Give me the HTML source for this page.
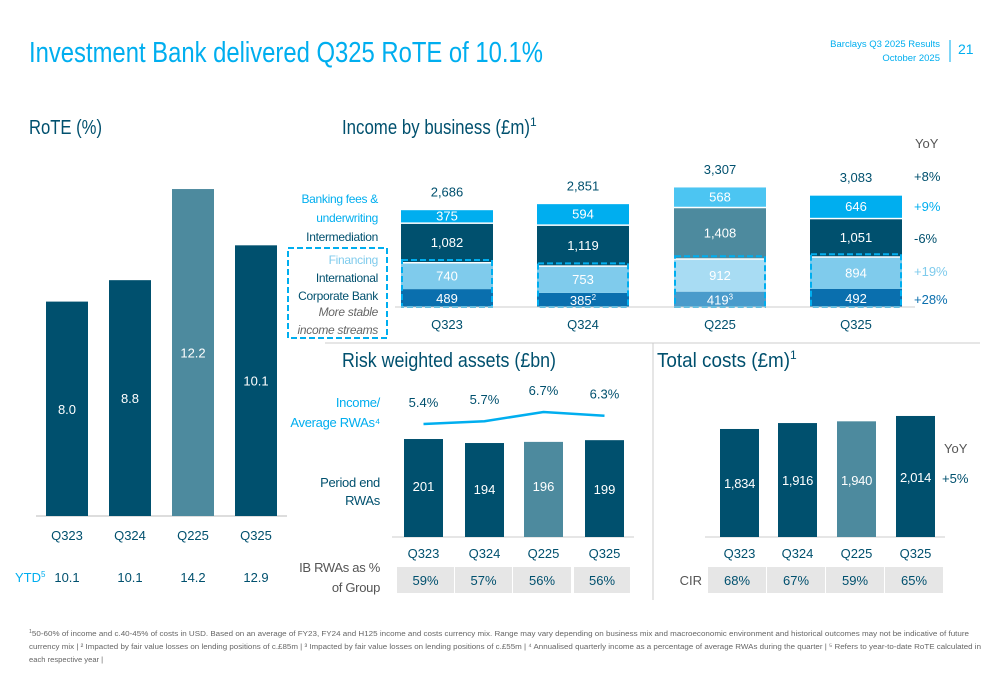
<!DOCTYPE html>
<html><head><meta charset="utf-8"><style>
html,body{margin:0;padding:0;background:#fff;}
svg{display:block;font-family:"Liberation Sans",sans-serif;}
</style></head><body>
<svg id="s" width="1000" height="685" viewBox="0 0 1000 685" xmlns="http://www.w3.org/2000/svg">
<text x="29" y="62" font-size="29" fill="#00aeef" textLength="514" lengthAdjust="spacingAndGlyphs">Investment Bank delivered Q325 RoTE of 10.1%</text>
<text x="940" y="47" font-size="9.5" fill="#00aeef" text-anchor="end">Barclays Q3 2025 Results</text>
<text x="940" y="61" font-size="9.5" fill="#00aeef" text-anchor="end">October 2025</text>
<line x1="950" y1="40" x2="950" y2="62" stroke="#00aeef" stroke-width="1"/>
<text x="958" y="54" font-size="14" fill="#00aeef">21</text>
<text x="29" y="134" font-size="20" fill="#00506e" textLength="73" lengthAdjust="spacingAndGlyphs">RoTE (%)</text>
<text x="342" y="134" font-size="20" fill="#00506e"><tspan textLength="188" lengthAdjust="spacingAndGlyphs">Income by business (£m)</tspan><tspan font-size="12" dy="-8">1</tspan></text>
<text x="342" y="367" font-size="20" fill="#00506e" textLength="214" lengthAdjust="spacingAndGlyphs">Risk weighted assets (£bn)</text>
<text x="657" y="367" font-size="20" fill="#00506e"><tspan textLength="133" lengthAdjust="spacingAndGlyphs">Total costs (£m)</tspan><tspan font-size="12" dy="-8">1</tspan></text>
<line x1="325" y1="343" x2="980" y2="343" stroke="#cccccc"/>
<line x1="653" y1="343" x2="653" y2="600" stroke="#cccccc"/>
<g id="g"></g>
<text x="29" y="636" font-size="7.6" fill="#666" textLength="940" lengthAdjust="spacingAndGlyphs"><tspan font-size="5" dy="-3">1</tspan><tspan dy="3">50-60% of income and c.40-45% of costs in USD. Based on an average of FY23, FY24 and H125 income and costs currency mix. Range may vary depending on business mix and macroeconomic environment and historical outcomes may not be indicative of future</tspan></text>
<text x="29" y="649" font-size="7.6" fill="#666" textLength="952" lengthAdjust="spacingAndGlyphs">currency mix | ² Impacted by fair value losses on lending positions of c.£85m | ³ Impacted by fair value losses on lending positions of c.£55m | ⁴ Annualised quarterly income as a percentage of average RWAs during the quarter | ⁵ Refers to year-to-date RoTE calculated in</text>
<text x="29" y="662" font-size="7.6" fill="#666">each respective year |</text>
</svg>
<script>
const quarters = ["Q323","Q324","Q225","Q325"];
const roteValues = [8.0, 8.8, 12.2, 10.1];
const ytdValues = ["10.1","10.1","14.2","12.9"];
const icbValues = [489, 385, 419, 492];
const icbLabels = ["489","385","419","492"];
const icbSup = ["","2","3",""];
const financingValues = [740, 753, 912, 894];
const intermediationValues = [1082, 1119, 1408, 1051];
const bankingFeesValues = [375, 594, 568, 646];
const incomeTotals = ["2,686","2,851","3,307","3,083"];
const yoyIncome = ["+8%","+9%","-6%","+19%","+28%"];
const rwaValues = [201, 194, 196, 199];
const incomeRwaValues = [5.4, 5.7, 6.7, 6.3];
const rwaGroupShare = ["59%","57%","56%","56%"];
const costValues = [1834, 1916, 1940, 2014];
const cirValues = ["68%","67%","59%","65%"];
const costYoy = "+5%";

const NS="http://www.w3.org/2000/svg";
const G=document.getElementById('g');
const DARK="#00506e", HIL="#4d8a9e", CYAN="#00aeef";
function mk(tag, attrs){const e=document.createElementNS(NS,tag);for(const k in attrs)e.setAttribute(k,attrs[k]);G.appendChild(e);return e;}
function fmt(v){return v.toLocaleString('en-US');}

// ---------- RoTE ----------
const roteX=[46,109,172,235], roteW=42, roteBase=516;
const roteY=v=>roteBase - v*26.8;
let ax=mk('line',{x1:36,y1:roteBase,x2:287,y2:roteBase,stroke:"#bbb"});


roteValues.forEach((v,i)=>{
  const r=mk('rect',{x:roteX[i],y:roteY(v),width:roteW,height:roteBase-roteY(v),fill:i==2?HIL:DARK});
  
  
  const t=mk('text',{x:roteX[i]+roteW/2,y:(roteY(v)+roteBase)/2+5,'font-size':13,fill:'#fff','text-anchor':'middle'});
  t.textContent=v.toFixed(1);
  
  
  const c=mk('text',{x:roteX[i]+roteW/2,y:540,'font-size':13,fill:DARK,'text-anchor':'middle'});
  c.textContent=quarters[i];
  
  
  const y=mk('text',{x:roteX[i]+roteW/2,y:582,'font-size':13,fill:DARK,'text-anchor':'middle'});
  y.textContent=ytdValues[i];
  
  
});
let ytd=mk('text',{x:15,y:582,'font-size':13,fill:CYAN});
ytd.innerHTML='YTD<tspan font-size="8" dy="-5">5</tspan>';



// ---------- Income stacked ----------
const incX=[401,537,674,810], incW=92, incBase=307, incS=0.0366;
const series=[
 {vals:icbValues,name:'icb',col:["#0a6fae","#0a6fae","#4a9bcb","#0a6fae"]},
 {vals:financingValues,name:'financing',col:["#7fcbec","#7fcbec","#a8dcf3","#7fcbec"]},
 {vals:intermediationValues,name:'intermediation',col:[DARK,DARK,HIL,DARK]},
 {vals:bankingFeesValues,name:'banking-fees',col:[CYAN,CYAN,"#4cc5f2",CYAN]}
];
quarters.forEach((q,i)=>{
  let cum=0;
  let dashTop=0;
  series.forEach((s,k)=>{
    const v=s.vals[i];
    const y0=incBase-cum*incS, y1=incBase-(cum+v)*incS;
    const r=mk('rect',{x:incX[i],y:y1+(k>0?1.5:0),width:incW,height:Math.max(0,y0-y1-(k>0?1.5:0)),fill:s.col[i]});
    
    
    const t=mk('text',{x:incX[i]+incW/2,y:(y0+y1)/2+5,'font-size':13,fill:'#fff','text-anchor':'middle'});
    if(k==0){t.innerHTML=icbLabels[i]+(icbSup[i]?'<tspan font-size="8" dy="-5">'+icbSup[i]+'</tspan>':'');}
    else t.textContent=fmt(v);
    
    
    cum+=v;
    if(k==1)dashTop=y1;
  });
  const d=mk('rect',{x:incX[i]+1,y:dashTop-2,width:incW-2,height:incBase-dashTop+2,fill:'none',stroke:CYAN,'stroke-width':2,'stroke-dasharray':'6,3'});
  
  
  const tt=mk('text',{x:incX[i]+incW/2,y:incBase-cum*incS-12,'font-size':13,fill:DARK,'text-anchor':'middle'});
  tt.textContent=incomeTotals[i];
  
  
  const c=mk('text',{x:incX[i]+incW/2,y:329,'font-size':13,fill:DARK,'text-anchor':'middle'});
  c.textContent=q;
  
  
});
let iax=mk('line',{x1:395,y1:incBase,x2:915,y2:incBase,stroke:"#ccc"});


const yoyY=[181,211,243,276,304], yoyC=[DARK,CYAN,DARK,"#7fcbec","#0a6fae"];
let yh=mk('text',{x:915,y:148,'font-size':13,fill:'#555'});
yh.textContent='YoY';


yoyIncome.forEach((v,i)=>{
  const t=mk('text',{x:914,y:yoyY[i],'font-size':13,fill:yoyC[i]});
  t.textContent=v;
  
  
});
const leg=[["Banking fees &",203,CYAN,""],["underwriting",222,CYAN,""],["Intermediation",241,DARK,""],["Financing",264,"#7fcbec",""],["International",282,DARK,""],["Corporate Bank",300,DARK,""],["More stable",316,"#666","italic"],["income streams",334,"#666","italic"]];
leg.forEach(l=>{
  const t=mk('text',{x:378,y:l[1],'font-size':12,'letter-spacing':'-0.3',fill:l[2],'text-anchor':'end','font-style':l[3]||'normal'});
  t.textContent=l[0];
  
  
});
let lb=mk('rect',{x:288,y:248,width:99,height:90,fill:'none',stroke:CYAN,'stroke-width':2,'stroke-dasharray':'6,3'});



// ---------- RWA ----------
const rwaX=[404,465,524,585], rwaW=39, rwaBase=537;
const rwaY=v=>rwaBase-(v-30)*0.573;
const lineY=v=>424-(v-5.4)*9.2;
let rax=mk('line',{x1:392,y1:rwaBase,x2:634,y2:rwaBase,stroke:"#ccc"});


let pts=incomeRwaValues.map((v,i)=>(rwaX[i]+rwaW/2)+','+lineY(v)).join(' ');
let pl=mk('polyline',{points:pts,fill:'none',stroke:CYAN,'stroke-width':2.5});


const cellX=[397,455,513,574], cellW=[57,57,58,56];
rwaValues.forEach((v,i)=>{
  const r=mk('rect',{x:rwaX[i],y:rwaY(v),width:rwaW,height:rwaBase-rwaY(v),fill:i==2?HIL:DARK});
  
  
  const t=mk('text',{x:rwaX[i]+rwaW/2,y:(i%2?494:491),'font-size':13,fill:'#fff','text-anchor':'middle'});
  t.textContent=v;
  
  
  const p=mk('text',{x:rwaX[i]+rwaW/2,y:lineY(incomeRwaValues[i])-17,'font-size':13,fill:DARK,'text-anchor':'middle'});
  p.textContent=incomeRwaValues[i].toFixed(1)+'%';
  
  
  const c=mk('text',{x:rwaX[i]+rwaW/2,y:558,'font-size':13,fill:DARK,'text-anchor':'middle'});
  c.textContent=quarters[i];
  
  
  const cell=mk('rect',{x:cellX[i],y:567,width:cellW[i],height:26,fill:'#e6e6e6'});
  
  
  const ct=mk('text',{x:cellX[i]+cellW[i]/2,y:585,'font-size':13,fill:DARK,'text-anchor':'middle'});
  ct.textContent=rwaGroupShare[i];
  
  
});
const rl=[["Income/",407,CYAN],["Average RWAs⁴",427,CYAN],["Period end",487,DARK],["RWAs",505,DARK],["IB RWAs as %",572,"#555"],["of Group",592,"#555"]];
rl.forEach(l=>{
  const t=mk('text',{x:380,y:l[1],'font-size':13,'letter-spacing':'-0.3',fill:l[2],'text-anchor':'end'});
  t.textContent=l[0];
  
  
});

// ---------- Costs ----------
const cX=[720,778,837,896], cW=39, cBase=537;
const cY=v=>cBase-(v-340)*0.0723;
let cax=mk('line',{x1:705,y1:cBase,x2:945,y2:cBase,stroke:"#ccc"});


const cirX=[708,767,826,885], cirW=[58,58,58,58];
costValues.forEach((v,i)=>{
  const r=mk('rect',{x:cX[i],y:cY(v),width:cW,height:cBase-cY(v),fill:i==2?HIL:DARK});
  
  
  const t=mk('text',{x:cX[i]+cW/2,y:[488,485,485,482][i],'font-size':13,'letter-spacing':'-0.3',fill:'#fff','text-anchor':'middle'});
  t.textContent=fmt(v);
  
  
  const c=mk('text',{x:cX[i]+cW/2,y:558,'font-size':13,fill:DARK,'text-anchor':'middle'});
  c.textContent=quarters[i];
  
  
  const cell=mk('rect',{x:cirX[i],y:567,width:cirW[i],height:26,fill:'#e6e6e6'});
  
  
  const ct=mk('text',{x:cirX[i]+cirW[i]/2,y:585,'font-size':13,fill:DARK,'text-anchor':'middle'});
  ct.textContent=cirValues[i];
  
  
});
let cir=mk('text',{x:702,y:585,'font-size':13,fill:'#555','text-anchor':'end'});
cir.textContent='CIR';


let cyh=mk('text',{x:944,y:453,'font-size':13,fill:'#555'});
cyh.textContent='YoY';


let cyv=mk('text',{x:942,y:483,'font-size':13,fill:DARK});
cyv.textContent=costYoy;


</script>
</body></html>
